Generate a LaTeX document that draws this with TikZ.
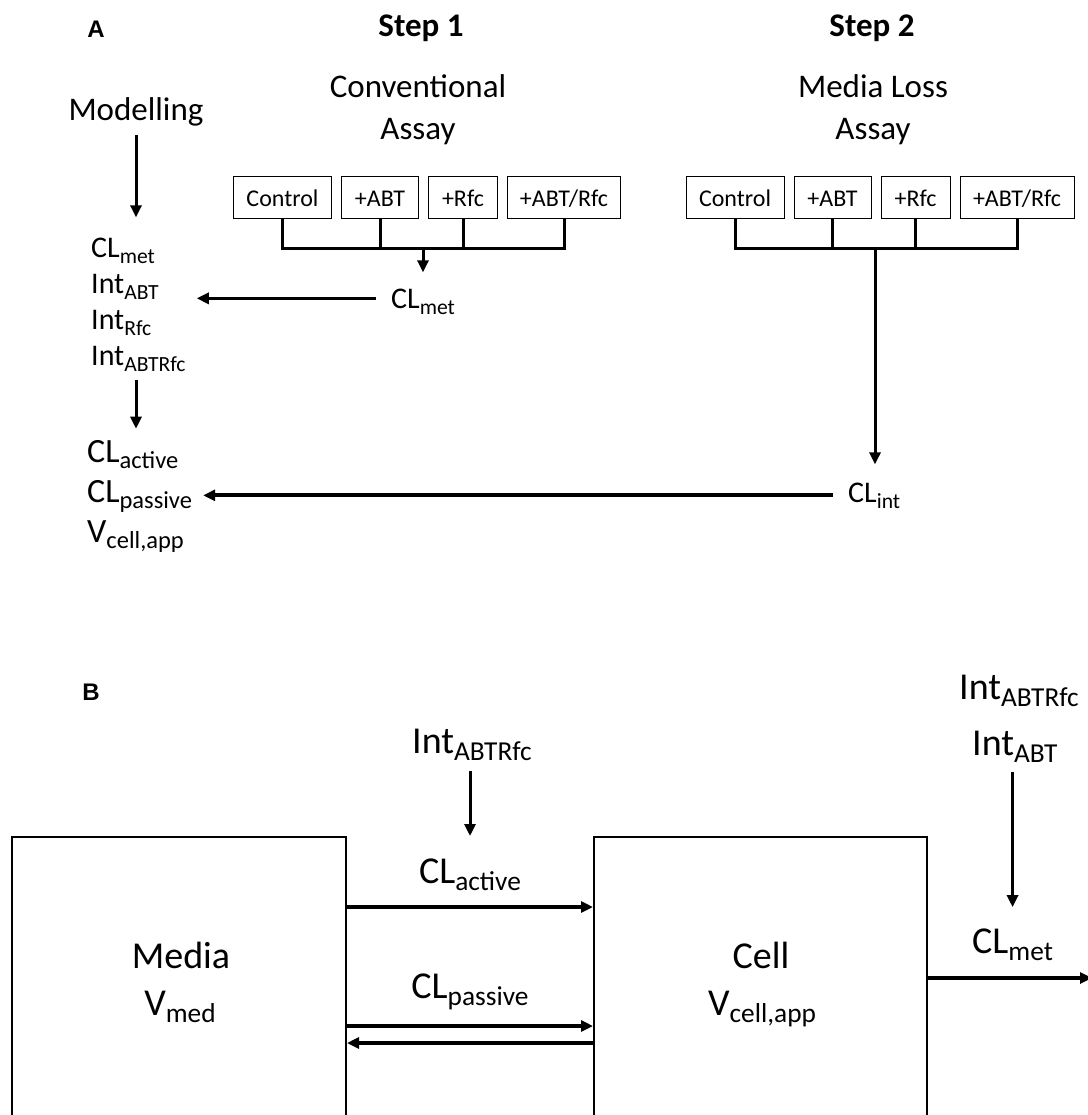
\documentclass[tikz,border=0pt]{standalone}
\usepackage{fontspec}
\usepackage{graphicx}
\setmainfont{Carlito}
\newfontfamily\panelfont{Liberation Sans}
\usetikzlibrary{arrows.meta, positioning}

\newcommand{\lo}[1]{\raisebox{-0.2em}{\scalebox{0.72}{#1}}}

\tikzstyle{panel} = [inner sep=0pt, anchor=base, font=\panelfont\bfseries\fontsize{24}{28}\selectfont]
\tikzstyle{steptitle} = [inner sep=0pt, anchor=base, font=\bfseries\fontsize{33}{40}\selectfont]
\tikzstyle{assaytitle} = [inner sep=0pt, anchor=base, font=\fontsize{33}{40}\selectfont]
\tikzstyle{listitem} = [inner sep=0pt, anchor=base west, font=\fontsize{30}{36}\selectfont]
\tikzstyle{listbig} = [inner sep=0pt, anchor=base west, font=\fontsize{34}{40}\selectfont]
\tikzstyle{armbox} = [rectangle, draw=black, line width=1pt, minimum height=42pt,
    inner sep=0pt, text height=21pt, text depth=2pt, text centered, font=\fontsize{24}{28}\selectfont]
\tikzstyle{compart} = [rectangle, draw=black, line width=2pt, minimum height=300pt]
\tikzstyle{blbl} = [inner sep=0pt, anchor=base, font=\fontsize{38}{45}\selectfont]
\tikzstyle{bracket} = [line width=3pt]
\tikzstyle{arrow} = [line width=3pt, -{Triangle[length=12pt,width=11pt]}]

\begin{document}
\begin{tikzpicture}[x=1pt, y=-1pt]
\useasboundingbox (0,0) rectangle (1087,1115);

% panel A
\node (pa) [panel] at (96,38) {A};
\node (step1) [steptitle] at (421,37) {Step 1};
\node (step2) [steptitle] at (872,37) {Step 2};
\node (conv) [assaytitle] at (418,98) {Conventional};
\node (conva) [assaytitle] at (418,140) {Assay};
\node (loss) [assaytitle] at (873,98) {Media Loss};
\node (lossa) [assaytitle] at (873,140) {Assay};
\node (model) [assaytitle] at (136,121) {Modelling};

\node (ctl1) [armbox, minimum width=98pt] at (282.5,197.5) {Control};
\node (abt1) [armbox, minimum width=77pt, right=9pt of ctl1] {+ABT};
\node (rfc1) [armbox, minimum width=69pt, right=9pt of abt1] {+Rfc};
\node (both1) [armbox, minimum width=113pt, right=9pt of rfc1] {+ABT/Rfc};

\node (ctl2) [armbox, minimum width=98pt] at (735,197.5) {Control};
\node (abt2) [armbox, minimum width=77pt, right=9pt of ctl2] {+ABT};
\node (rfc2) [armbox, minimum width=69pt, right=9pt of abt2] {+Rfc};
\node (both2) [armbox, minimum width=114pt, right=9pt of rfc2] {+ABT/Rfc};

\node (clmet) [listitem] at (91,257) {CL\lo{met}};
\node (intabt) [listitem] at (91,293) {Int\lo{ABT}};
\node (intrfc) [listitem] at (91,329) {Int\lo{Rfc}};
\node (intboth) [listitem] at (91,365) {Int\lo{ABTRfc}};
\node (clact) [listbig] at (87,462) {CL\lo{active}};
\node (clpas) [listbig] at (87,502) {CL\lo{passive}};
\node (vcell) [listbig] at (87,542) {V\lo{cell,app}};

\node (clmet1) [listitem] at (391,308) {CL\lo{met}};
\node (clint) [listitem] at (848,502) {CL\lo{int}};

\coordinate (join1) at (423,248);
\coordinate (join2) at (875,248);

\draw [bracket] (ctl1.south) -- ++(0,29) -| (both1.south);
\draw [bracket] (abt1.south) -- ++(0,29);
\draw [bracket] (rfc1.south) -- ++(0,29);
\draw [bracket] (ctl2.south) -- ++(0,29) -| (both2.south);
\draw [bracket] (abt2.south) -- ++(0,29);
\draw [bracket] (rfc2.south) -- ++(0,29);

\draw [arrow, shorten >=16pt] (join1) -- (join1 |- clmet1.north);
\draw [arrow, shorten >=18pt] (join2) -- (join2 |- clint.north);
\draw [arrow, shorten <=8pt, shorten >=20pt] (model.south) -- (model.south |- clmet.north);
\draw [arrow, shorten <=9pt, shorten >=11pt] (model.south |- intboth.south) -- (model.south |- clact.north);
\draw [arrow, shorten <=15pt, shorten >=38pt] ([yshift=3pt]clmet1.west) -- ([yshift=3pt]clmet1.west -| intabt.east);
\draw [arrow, line width=4pt, shorten <=15pt, shorten >=11pt] (clint.west) -- (clint.west -| clpas.east);

% panel B
\node (pb) [panel] at (91,700) {B};
\node (media) [compart, minimum width=334pt, anchor=north] at (179,836) {};
\node (cell) [compart, minimum width=333pt, anchor=north] at (760.5,836) {};
\node (medname) [blbl] at (181,968) {Media};
\node (vmed) [blbl] at (180,1015) {V\lo{med}};
\node (cellname) [blbl] at (761,968) {Cell};
\node (vcellb) [blbl] at (762,1015) {V\lo{cell,app}};

\node (intmid) [blbl, anchor=base west] at (412,753) {Int\lo{ABTRfc}};
\node (cla) [blbl] at (470,883) {CL\lo{active}};
\node (clp) [blbl] at (470,998) {CL\lo{passive}};

\node (intr1) [blbl, anchor=base west] at (959,699) {Int\lo{ABTRfc}};
\node (intr2) [blbl, anchor=base west] at (972,755) {Int\lo{ABT}};
\node (clmetr) [blbl, anchor=base west] at (972,953) {CL\lo{met}};

\coordinate (outlet) at (1092,978);

\draw [arrow, shorten <=10pt] (cla.north |- intmid.south) -- (cla.north |- media.north);
\draw [arrow, shorten <=9pt, shorten >=21pt] (clmetr.north |- intr2.south) -- (clmetr.north);
\draw [arrow, line width=4pt] ([yshift=80pt]media.east) -- ([yshift=80pt]cell.west);
\draw [arrow, line width=4pt] ([yshift=-39pt]media.east) -- ([yshift=-39pt]cell.west);
\draw [arrow, line width=4pt] ([yshift=-56pt]cell.west) -- ([yshift=-56pt]media.east);
\draw [arrow, line width=4pt] (cell.east |- outlet) -- (outlet);
\end{tikzpicture}
\end{document}
